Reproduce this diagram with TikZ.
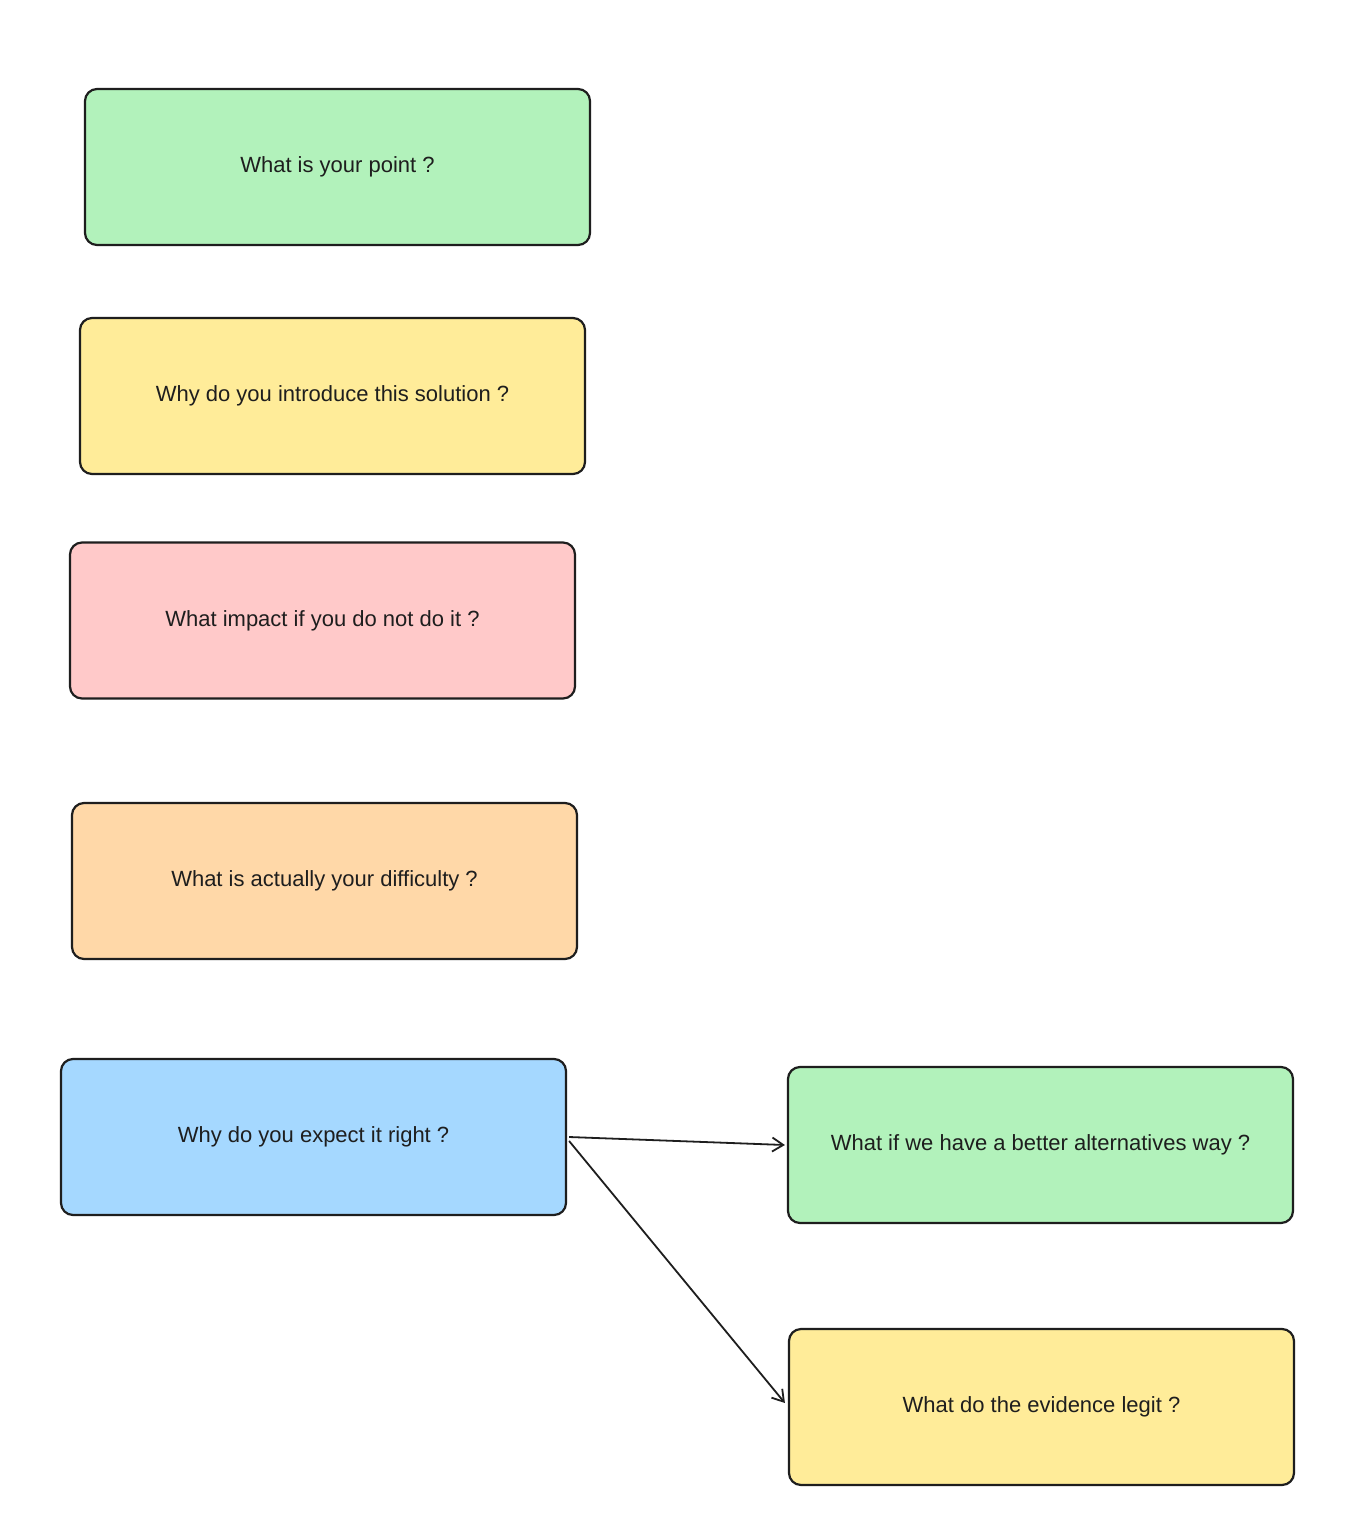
\documentclass[tikz,border=0pt]{standalone}
\usepackage{fontspec}
\setmainfont{Liberation Sans}
\usetikzlibrary{arrows.meta}
\definecolor{cgreen}{HTML}{B2F2BB}
\definecolor{cyellow}{HTML}{FFEC99}
\definecolor{cred}{HTML}{FFC9C9}
\definecolor{corange}{HTML}{FFD8A8}
\definecolor{cblue}{HTML}{A5D8FF}
\definecolor{cink}{HTML}{1E1E1E}
\tikzset{
  qbox/.style={draw=cink, line width=2.2pt, rounded corners=12pt, minimum width=505pt, minimum height=156pt, inner sep=0pt, font=\fontsize{22}{26}\selectfont, text=cink, anchor=center},
  conn/.style={draw=cink, line width=1.8pt, -{Straight Barb[length=11pt,width=14pt,line width=1.8pt]}}
}
\begin{document}
\begin{tikzpicture}[x=1pt,y=-1pt]
\useasboundingbox (0,0) rectangle (1370,1518);
\fill[white] (0,0) rectangle (1370,1518);
\node[qbox, fill=cgreen] (b1) at (337.5,167) {What is your point ?};
\node[qbox, fill=cyellow] (b2) at (332.5,396) {Why do you introduce this solution ?};
\node[qbox, fill=cred] (b3) at (322.5,620.5) {What impact if you do not do it ?};
\node[qbox, fill=corange] (b4) at (324.5,881) {What is actually your difficulty ?};
\node[qbox, fill=cblue] (b5) at (313.5,1137) {Why do you expect it right ?};
\node[qbox, fill=cgreen] (b6) at (1040.5,1145) {What if we have a better alternatives way ?};
\node[qbox, fill=cyellow] (b7) at (1041.5,1407) {What do the evidence legit ?};
\draw[conn] ([xshift=2pt]b5.east) -- ([xshift=-2pt]b6.west);
\draw[conn] ([xshift=2pt,yshift=-4pt]b5.east) -- ([xshift=-3pt,yshift=4pt]b7.west);
\end{tikzpicture}
\end{document}
